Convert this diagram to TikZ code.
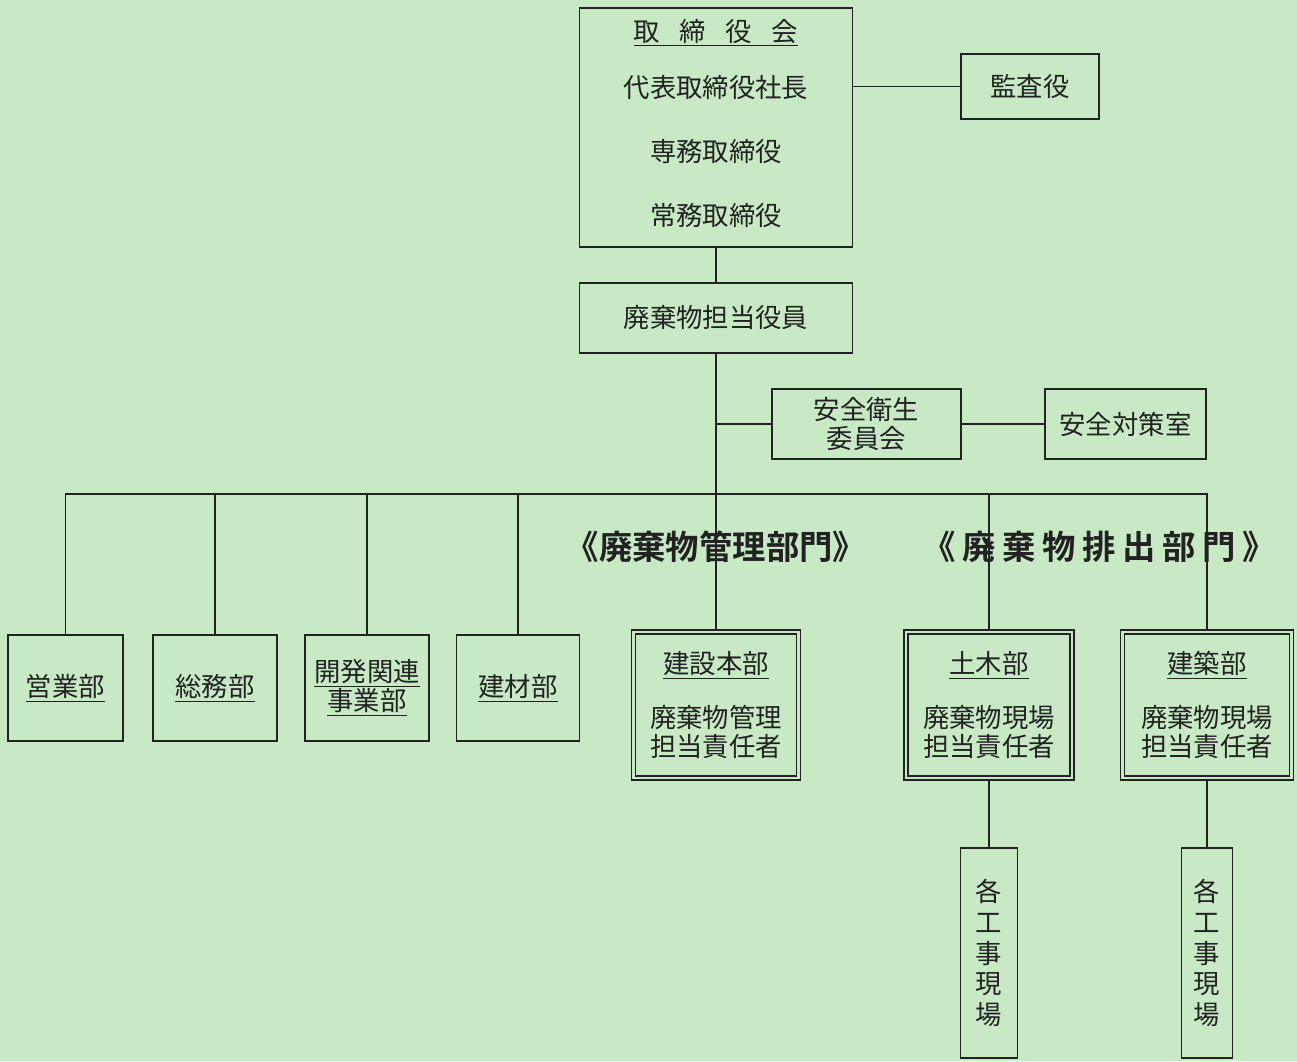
\documentclass[tikz,border=0pt]{standalone}
\usepackage{fontspec}
\setmainfont{Noto Sans CJK JP}[BoldFont={Noto Sans CJK JP Bold}]
\usetikzlibrary{positioning}
\usetikzlibrary{calc}
\definecolor{mbg}{RGB}{199,234,197}
\definecolor{mline}{RGB}{34,34,34}
\newcommand{\gap}{\hspace{0.2em}}

\begin{document}
\begin{tikzpicture}[x=0.02cm, y=-0.02cm,
    box/.style={draw=mline, line width=0.9pt, inner sep=0pt, align=center, text=mline, font=\fontsize{15}{16.5}\selectfont},
    dbox/.style={box, double=mbg, double distance=1.6pt, line width=0.7pt},
    tallbox/.style={box, minimum height=4.2cm, font=\fontsize{15}{17.5}\selectfont},
    link/.style={draw=mline, line width=0.9pt},
    section/.style={text=mline, font=\fontsize{19}{22}\selectfont\bfseries},
]
\fill[mbg] (0,0) rectangle (1297,1061);
\useasboundingbox (0,0) rectangle (1297,1061);

% top of the chart
\node[box, minimum width=5.46cm, minimum height=4.78cm] (board) at (716,127.5) {\underline{取\hspace{0.75em}締\hspace{0.75em}役\hspace{0.75em}会}\\[0.54cm] 代表取締役社長\\[0.7cm] 専務取締役\\[0.7cm] 常務取締役\\[-0.36cm]};
\node[box, minimum width=2.76cm, minimum height=1.3cm] (kansa) at (1030,86.5) {監査役};
\node[box, minimum width=5.46cm, minimum height=1.4cm] (yakuin) at (716,318) {廃棄物担当役員};

\node[box, minimum width=3.78cm, minimum height=1.4cm] (iinkai) at (866.5,424) {安全衛生\\委員会};
\node[box, minimum width=3.22cm, minimum height=1.4cm] (taisaku) at (1125.5,424) {安全対策室};

\coordinate (bus) at (716,494);

% departments
\node[box, minimum width=2.30cm, minimum height=2.12cm] (eigyo) at (65.5,688) {\underline{営業部}};
\node[box, minimum width=2.48cm, minimum height=2.12cm] (soumu) at (215,688) {\underline{総務部}};
\node[box, minimum width=2.48cm, minimum height=2.12cm] (kaihatsu) at (367,688) {\underline{開発関連}\\\underline{事業部}};
\node[box, minimum width=2.46cm, minimum height=2.12cm] (kenzai) at (518,688) {\underline{建材部}};

\node[dbox, minimum width=3.30cm, minimum height=2.92cm] (kensetsu) at (716,705) {\underline{建設本部}\\[0.5cm] 廃棄物管理\\担当責任者};
\node[dbox, minimum width=3.32cm, minimum height=2.92cm] (doboku) at (989,705) {\underline{土木部}\\[0.5cm] 廃棄物現場\\担当責任者};
\node[dbox, minimum width=3.38cm, minimum height=2.92cm] (kenchiku) at (1207,705) {\underline{建築部}\\[0.5cm] 廃棄物現場\\担当責任者};

\node[tallbox, minimum width=1.14cm] (genba1) at (989,953) {各\\工\\事\\現\\場};
\node[tallbox, minimum width=1.02cm] (genba2) at (1207,953) {各\\工\\事\\現\\場};

\draw[link] (board) -- (yakuin);
\draw[link] (kansa.west) -- (kansa.west -| board.east);
\draw[link] (yakuin.south) -- (bus);
\draw[link] (iinkai.west) -- (iinkai.west -| bus);
\draw[link] (iinkai) -- (taisaku);

% the bus line and the drops
\draw[link] (eigyo.north) |- (bus);
\draw[link] (soumu.north) |- (bus);
\draw[link] (kaihatsu.north) |- (bus);
\draw[link] (kenzai.north) |- (bus);
\draw[link] (bus) -- (kensetsu.north);
\draw[link] (doboku.north) |- (bus);
\draw[link] (kenchiku.north) |- (bus);

\draw[link] (doboku) -- (genba1);
\draw[link] (kenchiku) -- (genba2);

\node[section] (kanri) at (716,547) {《廃棄物管理部門》};
\node[section] (haishutsu) at (1099,547) {《\gap 廃\gap 棄\gap 物\gap 排\gap 出\gap 部\gap 門\gap 》};

\end{tikzpicture}
\end{document}
